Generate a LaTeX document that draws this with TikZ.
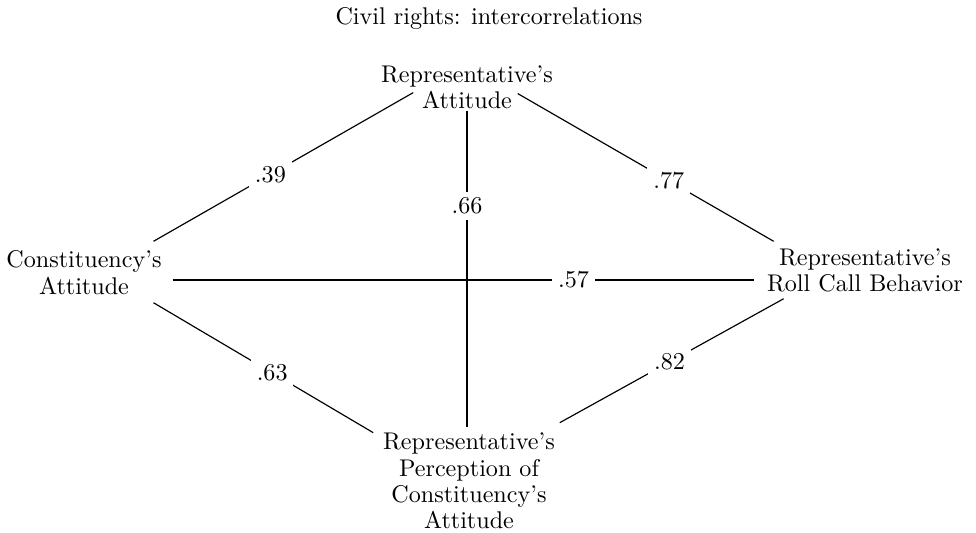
\documentclass[tikz,border=0pt]{standalone}
\usepackage{tikz}
\usetikzlibrary{positioning}
\tikzset{
    % names of the variables
    varname/.style={
        align=center,
        inner sep=0pt,
        font=\fontsize{10.3}{11.2}\selectfont
    },
    % lines between the variables
    corrline/.style={
        line width=0.5pt,
        black
    },
    % correlation values, set on the lines
    corrlabel/.style={
        fill=white,
        inner sep=2.5pt,
        font=\fontsize{10.3}{11.2}\selectfont
    }
}
\begin{document}
\begin{tikzpicture}[x=0.015cm,y=-0.015cm]
\useasboundingbox (0,0) rectangle (976,532);

% ===================== title =====================
\node[varname] (title) at (489,18) {Civil rights: intercorrelations};

% ===================== variables =====================
\node[varname] (ra) at (467,87) {Representative's\\Attitude};
\node[varname] (ca) at (84,272.5) {Constituency's\\Attitude};
\node[varname] (rb) at (865,270.5) {Representative's\\Roll Call Behavior};
\node[varname] (rp) at (469,481) {Representative's\\Perception of\\Constituency's\\Attitude};

% ===================== correlations =====================
\draw[corrline] ([shift={(-8.5,-9)}]ca.north east) -- node[corrlabel,pos=0.45] {.39} ([shift={(32.5,-16.5)}]ra.south west);
\draw[corrline] ([shift={(-35.5,-15.5)}]ra.south east) -- node[corrlabel,pos=0.59] {.77} ([shift={(7,-7)}]rb.north west);
\draw[corrline,shorten <=0.6pt,shorten >=2.6pt] (ra.south) -- node[corrlabel,pos=0.3] {.66} (ra.south |- rp.north);
\draw[corrline] ([shift={(10.5,7.5)}]ca.east) -- node[corrlabel,pos=0.69] {.57} ([shift={(-13,9.5)}]rb.west);
\draw[corrline] ([shift={(-8.5,8)}]ca.south east) -- node[corrlabel,pos=0.54] {.63} ([shift={(-9.5,0)}]rp.north west);
\draw[corrline] ([shift={(4.5,-10)}]rp.north east) -- node[corrlabel,pos=0.49] {.82} ([shift={(17,6)}]rb.south west);

\end{tikzpicture}
\end{document}
